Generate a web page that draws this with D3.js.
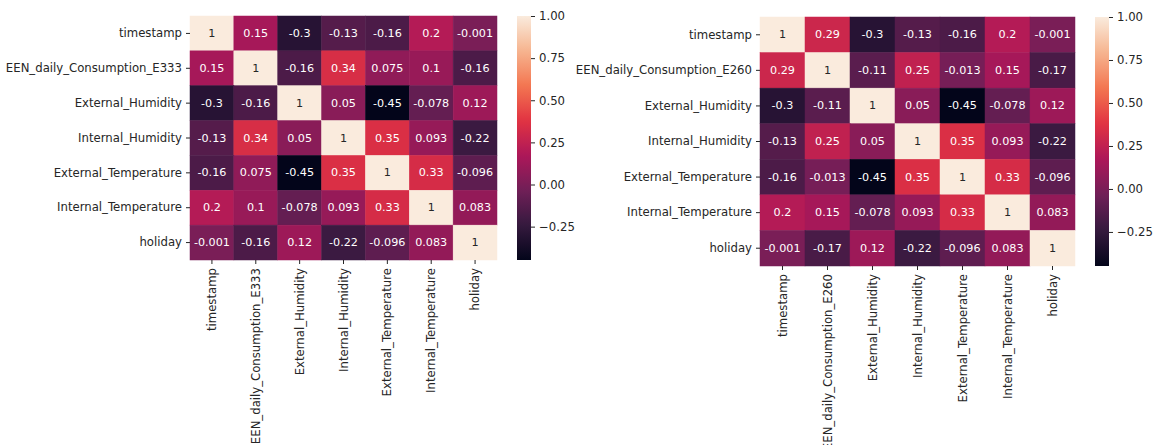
<!DOCTYPE html>
<html>
<head>
<meta charset="utf-8">
<script src="https://cdn.jsdelivr.net/npm/d3@7"></script>
<style>
  body { margin: 0; background: #fff; }
  svg text { font-family: "DejaVu Sans", sans-serif; }
</style>
</head>
<body>
<script>
const labelsA = ["timestamp", "EEN_daily_Consumption_E333", "External_Humidity", "Internal_Humidity",
    "External_Temperature", "Internal_Temperature", "holiday"];
const labelsB = ["timestamp", "EEN_daily_Consumption_E260", "External_Humidity", "Internal_Humidity",
    "External_Temperature", "Internal_Temperature", "holiday"];

const corrA = [
    [1, 0.15, -0.3, -0.13, -0.16, 0.2, -0.001],
    [0.15, 1, -0.16, 0.34, 0.075, 0.1, -0.16],
    [-0.3, -0.16, 1, 0.05, -0.45, -0.078, 0.12],
    [-0.13, 0.34, 0.05, 1, 0.35, 0.093, -0.22],
    [-0.16, 0.075, -0.45, 0.35, 1, 0.33, -0.096],
    [0.2, 0.1, -0.078, 0.093, 0.33, 1, 0.083],
    [-0.001, -0.16, 0.12, -0.22, -0.096, 0.083, 1],
];
const corrB = [
    [1, 0.29, -0.3, -0.13, -0.16, 0.2, -0.001],
    [0.29, 1, -0.11, 0.25, -0.013, 0.15, -0.17],
    [-0.3, -0.11, 1, 0.05, -0.45, -0.078, 0.12],
    [-0.13, 0.25, 0.05, 1, 0.35, 0.093, -0.22],
    [-0.16, -0.013, -0.45, 0.35, 1, 0.33, -0.096],
    [0.2, 0.15, -0.078, 0.093, 0.33, 1, 0.083],
    [-0.001, -0.17, 0.12, -0.22, -0.096, 0.083, 1],
];
const cbarTicks = [-0.25, 0, 0.25, 0.5, 0.75, 1];
const vmin = -0.448, vmax = 1;

// rocket colormap stops
const rocket = ["#03051a", "#35193e", "#701f57", "#ad1759", "#e13342", "#f37651", "#f6b48f", "#faebdd"];
const rocketT = d3.scaleLinear()
    .domain(rocket.map((c, i) => i / (rocket.length - 1)))
    .range(rocket)
    .interpolate(d3.interpolateRgb);
const color = v => rocketT((v - vmin) / (vmax - vmin));

const fmt = v => String(+v.toPrecision(2));
const labelSize = 11.7;

const svg = d3.select("body").append("svg")
    .attr("width", 1157).attr("height", 445);

function heatmap(labels, corr, box, cbar) {
    const g = svg.append("g");
    const x = d3.scaleBand().domain(d3.range(labels.length)).range([box.x0, box.x1]);
    const y = d3.scaleBand().domain(d3.range(labels.length)).range([box.y0, box.y1]);

    const cells = [];
    corr.forEach((row, i) => row.forEach((v, j) => cells.push({ i, j, v })));

    g.selectAll("rect.cell").data(cells).enter().append("rect")
        .attr("class", "cell")
        .attr("x", d => x(d.j)).attr("y", d => y(d.i))
        .attr("width", x.bandwidth()).attr("height", y.bandwidth())
        .attr("fill", d => color(d.v))
        .attr("stroke", d => color(d.v)).attr("stroke-width", 0.5);

    g.selectAll("text.annot").data(cells).enter().append("text")
        .attr("class", "annot")
        .attr("x", d => x(d.j) + x.bandwidth() / 2)
        .attr("y", d => y(d.i) + y.bandwidth() / 2)
        .attr("text-anchor", "middle").attr("dominant-baseline", "central")
        .attr("font-size", 11.2)
        .attr("fill", d => {
            const c = d3.rgb(color(d.v));
            const lum = (0.2126 * c.r + 0.7152 * c.g + 0.0722 * c.b) / 255;
            return lum > 0.408 ? "#262626" : "#ffffff";
        })
        .text(d => fmt(d.v));

    // y axis
    const ya = g.append("g").attr("transform", `translate(${box.x0},0)`)
        .call(d3.axisLeft(y).tickSize(4).tickPadding(4).tickFormat(i => labels[i]));
    ya.select(".domain").remove();
    ya.selectAll("text").attr("font-size", labelSize).attr("fill", "#262626").style("font-family", "DejaVu Sans");
    ya.selectAll("line").attr("stroke", "#262626");

    // x axis
    const xa = g.append("g").attr("transform", `translate(0,${box.y1})`)
        .call(d3.axisBottom(x).tickSize(4).tickPadding(4).tickFormat(i => labels[i]));
    xa.select(".domain").remove();
    xa.selectAll("text")
        .attr("font-size", labelSize).attr("fill", "#262626").style("font-family", "DejaVu Sans")
        .attr("transform", "rotate(-90)")
        .attr("x", -8).attr("y", 0).attr("dy", "0.35em")
        .attr("text-anchor", "end");
    xa.selectAll("line").attr("stroke", "#262626");

    // colorbar
    const cy = d3.scaleLinear().domain([vmin, vmax]).range([box.y1, box.y0]);
    const gid = "grad" + Math.round(box.x0);
    const grad = svg.append("defs").append("linearGradient")
        .attr("id", gid).attr("x1", 0).attr("y1", 1).attr("x2", 0).attr("y2", 0);
    d3.range(0, 1.0001, 0.02).forEach(t => {
        grad.append("stop").attr("offset", t).attr("stop-color", rocketT(t));
    });
    g.append("rect")
        .attr("x", cbar.x0).attr("y", box.y0)
        .attr("width", cbar.x1 - cbar.x0).attr("height", box.y1 - box.y0)
        .attr("fill", `url(#${gid})`);
    const ca = g.append("g").attr("transform", `translate(${cbar.x1},0)`)
        .call(d3.axisRight(cy).tickValues(cbarTicks).tickSize(4).tickPadding(4)
            .tickFormat(v => d3.format(".2f")(v).replace("-", "\u2212")));
    ca.select(".domain").remove();
    ca.selectAll("text").attr("font-size", labelSize).attr("fill", "#262626").style("font-family", "DejaVu Sans");
    ca.selectAll("line").attr("stroke", "#262626");
}

heatmap(labelsA, corrA, { x0: 190, x1: 497, y0: 16, y1: 260 }, { x0: 517, x1: 531 });
heatmap(labelsB, corrB, { x0: 760, x1: 1075, y0: 17, y1: 266 }, { x0: 1095, x1: 1109 });
</script>
</body>
</html>
